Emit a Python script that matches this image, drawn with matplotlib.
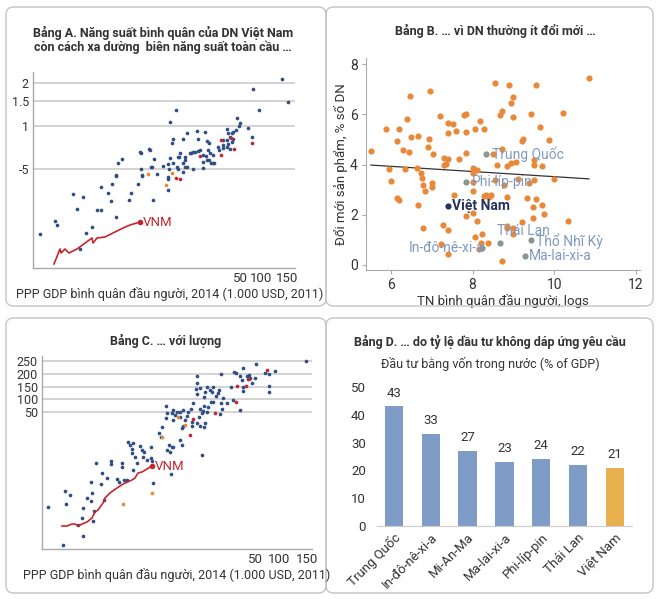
import matplotlib
matplotlib.use("Agg")
import matplotlib.pyplot as plt
from matplotlib.patches import FancyBboxPatch

plt.rcParams["font.family"] = ["Roboto", "DejaVu Sans"]

# ---------- Panel A: productivity vs GDP (axis units are the chart's own index scale) ----------
a_blue_x = [7, 22, 24, 40, 50, 44, 53, 59, 47, 64, 68, 68, 75, 78, 79, 83, 83, 85, 89, 96, 98, 105,
            108, 109, 108, 117, 119, 121, 120, 124, 130, 135, 135, 137, 139, 140, 144, 145, 147, 150,
            150, 154, 158, 162, 165, 167, 170, 170, 174, 178, 181, 175, 177, 185, 190, 194, 197, 199,
            249, 220, 255, 226, 143, 137, 204, 207, 206, 215, 219, 203, 200, 199, 195, 194, 197, 200,
            194, 195, 190, 190, 186, 154, 164, 172, 140, 150, 165, 174, 176, 160, 157, 146, 152, 173,
            180, 135, 152, 170, 176, 180, 136, 145, 152, 160, 135, 107, 116, 118, 109, 83]
a_blue_y = [34, 47, 43, 74, 71, 59, 35, 41, 19, 58, 58, 81, 75, 67, 84, 93, 51, 105, 109, 68, 75, 84,
            99, 92, 115, 118, 101, 109, 68, 94, 102, 78, 89, 110, 125, 105, 101, 111, 115, 96,
            105, 101, 115, 116, 117, 118, 113, 100, 108, 105, 105, 118, 115, 121, 120, 121, 119, 126,
            189, 179, 166, 158, 158, 146, 150, 145, 142, 140, 131, 138, 136, 135, 135, 139, 131, 129,
            128, 124, 128, 123, 118, 135, 137, 136, 129, 129, 129, 127, 125, 116, 115, 111, 111, 112,
            113, 104, 108, 106, 108, 105, 99, 99, 101, 99, 91, 116, 119, 101, 93, 92]
a_red_x = [143, 147, 167, 188, 201, 219, 188, 198]
a_red_y = [90, 89, 112, 113, 119, 125, 128, 130]
a_orange_x = [115, 139, 133]
a_orange_y = [94, 95, 83]
a_vnm_x = [21, 27, 28, 32, 36, 44, 59, 60, 64, 72, 82, 90, 97, 107]
a_vnm_y = [4, 19, 15, 19, 15, 19, 30, 25, 30, 31, 36, 40, 43, 46]
a_ytick_pos = [185, 167, 142, 99]
a_ytick_lab = ["2", "1.5", "1", "-5"]
a_xtick_pos = [207, 228, 254]
a_xtick_lab = ["50", "100", "150"]

# ---------- Panel B: innovation vs income ----------
b_x = [10.85, 8.56, 8.88, 9.56, 6.95, 6.46, 9.0, 8.93, 8.71, 8.68, 9.0, 9.44, 10.22, 7.2, 7.78, 7.83,
       6.39, 5.88, 6.2, 7.39, 7.51, 7.39, 7.59, 7.85, 8.05, 8.17, 8.27, 9.66, 6.49, 6.66, 6.93, 6.15,
       9.24, 9.88, 6.9, 5.51, 6.29, 6.44, 7.02, 7.29, 7.39, 7.29, 7.34, 7.66, 7.85, 8.49, 8.73, 9.22,
       8.61, 8.85, 8.95, 9.07, 9.51, 9.51, 9.71, 5.95, 6.34, 6.63, 6.73, 8.0, 8.1, 8.02, 6.0, 6.76,
       6.78, 7.0, 7.0, 6.83, 8.0, 8.02, 8.56, 8.76, 9.12, 9.39, 9.51, 10.0, 6.15, 6.2, 6.66, 7.54,
       8.27, 8.34, 8.41, 8.46, 8.85, 9.34, 9.56, 9.71, 9.49, 9.76, 8.0, 7.83, 8.12, 9.2, 9.49, 10.34,
       7.27, 8.85, 8.85, 8.98, 6.78, 7.41, 8.98, 8.22, 8.07, 8.2, 8.37, 7.22, 8.15, 7.41, 8.71]
b_y = [7.45, 7.25, 7.17, 7.17, 6.93, 6.73, 6.69, 6.45, 6.14, 5.98, 5.9, 6.02, 6.06, 5.94, 5.98, 6.02,
       5.82, 5.42, 5.42, 5.66, 5.62, 5.26, 5.34, 5.3, 5.42, 5.74, 5.42, 5.5, 5.1, 5.14, 5.02, 4.94,
       5.02, 4.98, 4.7, 4.54, 4.58, 4.5, 4.42, 4.26, 4.22, 3.98, 4.02, 4.22, 4.46, 4.42, 4.62, 4.94,
       3.98, 3.94, 4.06, 4.1, 4.18, 3.98, 3.94, 3.82, 3.82, 3.86, 3.66, 3.86, 3.78, 3.66, 3.35, 3.47,
       3.19, 3.27, 3.11, 2.95, 2.95, 3.31, 3.39, 3.19, 3.43, 3.27, 3.39, 3.43, 2.67, 2.59, 2.39, 2.79,
       2.75, 2.79, 2.71, 2.79, 2.71, 2.67, 2.63, 2.39, 2.31, 2.03, 2.07, 1.95, 1.75, 1.71, 1.87, 1.75,
       1.59, 1.55, 1.47, 1.47, 1.47, 1.39, 1.23, 1.23, 1.11, 0.88, 0.88, 0.84, 0.64, 0.44, 0.16]
b_countries = ["Trung Quốc", "Phi-líp-pin", "Thái Lan", "Thổ Nhĩ Kỳ", "In-đô-nê-xi-a", "Ma-lai-xi-a"]
b_country_x = [8.34, 7.85, 8.68, 9.44, 8.24, 9.29]
b_country_y = [4.42, 3.31, 0.88, 1.0, 0.68, 0.36]
b_vn_x, b_vn_y = 7.41, 2.35
b_fit_slope, b_fit_intercept = -0.103, 4.55
b_fit_range = [5.51, 10.85]

# ---------- Panel C: capital vs GDP ----------
c_blue_x = [264, 214, 201, 192, 194, 223, 233, 227, 207, 205, 198, 200, 206, 208, 213, 210, 201, 201,
            227, 227, 189, 179, 171, 177, 176, 168, 170, 165, 163, 158, 162, 155, 154, 155, 191, 198,
            185, 181, 174, 171, 169, 179, 180, 178, 166, 165, 162, 151, 149, 146, 145, 155, 158, 160,
            157, 161, 141, 138, 135, 131, 130, 133, 138, 125, 124, 150, 150, 155, 158, 162, 163, 143,
            141, 140, 131, 124, 120, 117, 119, 138, 140, 130, 127, 131, 86, 88, 91, 90, 98, 102, 109,
            109, 160, 129, 111, 6, 23, 28, 24, 21, 41, 40, 36, 41, 45, 49, 50, 49, 54, 52, 51, 59, 60,
            65, 62, 69, 69, 75, 77, 80, 80, 82, 85, 91, 90, 95, 93, 100, 101, 105, 110, 125, 128]
c_blue_y = [188, 185, 181, 177, 176, 176, 178, 175, 174, 173, 173, 169, 170, 171, 171, 166, 162, 158,
            163, 157, 162, 175, 162, 159, 156, 159, 157, 162, 157, 161, 152, 166, 160, 155, 149, 139,
            146, 151, 153, 147, 147, 146, 140, 135, 142, 137, 143, 146, 140, 137, 133, 173, 140, 136,
            132, 138, 139, 137, 137, 139, 136, 134, 132, 136, 131, 127, 123, 126, 123, 122, 126, 129,
            123, 121, 129, 143, 122, 116, 112, 109, 104, 102, 104, 102, 107, 104, 106, 100, 103, 97, 102,
            91, 94, 75, 66, 42, 58, 54, 45, 4, 13, 31, 24, 41, 51, 48, 56, 67, 86, 38, 28, 65, 76,
            71, 49, 88, 85, 70, 67, 86, 82, 69, 69, 79, 96, 86, 92, 99, 92, 89, 88, 99, 97]
c_red_x = [225, 207, 195, 204, 194, 173, 151, 148]
c_red_y = [179, 170, 163, 163, 147, 136, 130, 114]
c_orange_x = [143, 136, 120, 110, 81]
c_orange_y = [124, 132, 112, 56, 45]
c_vnm_x = [20, 25, 30, 33, 36, 40, 45, 50, 53, 56, 61, 63, 68, 75, 81, 90, 93, 96, 100, 105, 110]
c_vnm_y = [23, 23, 25, 25, 23, 25, 27, 31, 37, 39, 46, 51, 56, 61, 65, 69, 71, 76, 77, 80, 83]
c_ytick_pos = [188, 175, 162, 150, 137]
c_ytick_lab = ["250", "200", "150", "100", "50"]
c_xtick_pos = [213, 237, 265]
c_xtick_lab = ["50", "100", "150"]

# ---------- Panel D: domestic investment ----------
d_countries = ["Trung Quốc", "In-đô-nê-xi-a", "Mi-An-Ma", "Ma-lai-xi-a", "Phi-líp-pin", "Thái Lan", "Việt Nam"]
d_values = [43, 33, 27, 23, 24, 22, 21]

W, H = 660, 599
BLUE_DOT = "#2f4f86"
RED = "#c4262e"
ORANGE = "#e8893a"
GRID = "#cccccc"
SPINE = "#aaaaaa"
TXT = "#333333"
LABEL_BLUE = "#8099c2"

fig = plt.figure(figsize=(W / 100, H / 100), dpi=100)
fig.patch.set_facecolor("white")


def px_axes(left, top, right, bottom):
    return fig.add_axes([left / W, 1 - bottom / H, (right - left) / W, (bottom - top) / H])


def fig_text(x, y, s, **kw):
    fig.text(x / W, 1 - y / H, s, **kw)


# panel frames
for (x0, y0, x1, y1) in [(6, 7, 326, 306), (326, 7, 653, 306), (6, 318, 326, 593), (326, 318, 653, 593)]:
    box = FancyBboxPatch((x0 / W, 1 - y1 / H), (x1 - x0) / W, (y1 - y0) / H,
                         boxstyle="round,pad=0,rounding_size=0.012", transform=fig.transFigure,
                         facecolor="none", edgecolor="#c4c4c4", linewidth=1.0)
    fig.patches.append(box)


def style_index_axes(ax, ytp, ytl, xtp, xtl):
    for s in ["top", "right"]:
        ax.spines[s].set_visible(False)
    for s in ["left", "bottom"]:
        ax.spines[s].set_color(SPINE)
        ax.spines[s].set_linewidth(1.0)
    ax.set_yticks(ytp)
    ax.set_yticklabels(ytl)
    ax.set_xticks(xtp)
    ax.set_xticklabels(xtl)
    ax.tick_params(length=0, labelsize=9.5, colors=TXT, pad=3)
    ax.tick_params(axis="y", labelsize=9)
    for y in ytp:
        ax.axhline(y, color=GRID, lw=1.2, zorder=0)


# ---- A ----
axA = px_axes(33, 72, 295, 268)
axA.set_xlim(0, 262)
axA.set_ylim(0, 196)
style_index_axes(axA, a_ytick_pos, a_ytick_lab, a_xtick_pos, a_xtick_lab)
axA.scatter(a_blue_x, a_blue_y, s=7, color=BLUE_DOT, linewidths=0, zorder=3)
axA.scatter(a_red_x, a_red_y, s=7, color=RED, linewidths=0, zorder=3)
axA.scatter(a_orange_x, a_orange_y, s=7, color=ORANGE, linewidths=0, zorder=3)
axA.plot(a_vnm_x, a_vnm_y, color=RED, lw=1.2, zorder=4)
axA.plot(a_vnm_x[-1], a_vnm_y[-1], "o", color=RED, ms=3, zorder=4)
axA.text(a_vnm_x[-1] + 3, a_vnm_y[-1], "VNM", color=RED, fontsize=9.5, va="center", ha="left")
fig_text(163, 33, "Bảng A. Năng suất bình quân của DN Việt Nam", ha="center", va="center",
         fontsize=9, fontweight="bold", color=TXT)
fig_text(163, 47, "còn cách xa dường  biên năng suất toàn cầu …", ha="center", va="center",
         fontsize=9, fontweight="bold", color=TXT)
fig_text(170, 294, "PPP GDP bình quân đầu người, 2014 (1.000 USD, 2011)", ha="center", va="center",
         fontsize=9, color=TXT)

# ---- B ----
axB = px_axes(366, 58, 640, 270)
axB.set_xlim(5.39, 12.1)
axB.set_ylim(-0.2, 8.25)
for s in ["top", "right"]:
    axB.spines[s].set_visible(False)
for s in ["left", "bottom"]:
    axB.spines[s].set_color(SPINE)
axB.set_xticks([6, 8, 10, 12])
axB.set_yticks([0, 2, 4, 6, 8])
axB.tick_params(length=3, color=SPINE, labelsize=10, colors=TXT, pad=3)
axB.scatter(b_x, b_y, s=20, color=ORANGE, linewidths=0, zorder=3)
fx = b_fit_range
axB.plot(fx, [b_fit_slope * v + b_fit_intercept for v in fx], color="#333333", lw=0.9, zorder=2)
axB.scatter(b_country_x, b_country_y, s=20, color="#8a9690", linewidths=0, zorder=4)
offsets = {"Trung Quốc": (6, 0, "left"), "Phi-líp-pin": (5, 0, "left"), "Thái Lan": (-3, 12, "left"),
           "Thổ Nhĩ Kỳ": (5, -1, "left"), "In-đô-nê-xi-a": (2, 0, "right"), "Ma-lai-xi-a": (4, 0, "left")}
for name, x, y in zip(b_countries, b_country_x, b_country_y):
    dx, dy, ha = offsets[name]
    axB.annotate(name, (x, y), xytext=(dx, dy), textcoords="offset pixels", ha=ha, va="center",
                 fontsize=10, color=LABEL_BLUE, zorder=5)
axB.scatter([b_vn_x], [b_vn_y], s=20, color="#27335e", linewidths=0, zorder=4)
axB.annotate("Việt Nam", (b_vn_x, b_vn_y), xytext=(4, 0), textcoords="offset pixels", ha="left",
             va="center", fontsize=10, color="#27335e", fontweight="bold")
axB.set_ylabel("Đổi mới sản phẩm, % số DN", fontsize=9.5, color=TXT, labelpad=1)
axB.set_xlabel("TN bình quân đầu người, logs", fontsize=9.5, color=TXT, labelpad=1)
fig_text(495, 31, "Bảng B. … vì DN thường ít đổi mới …", ha="center", va="center",
         fontsize=9, fontweight="bold", color=TXT)

# ---- C ----
axC = px_axes(42, 356, 312, 549)
axC.set_xlim(0, 270)
axC.set_ylim(0, 193)
style_index_axes(axC, c_ytick_pos, c_ytick_lab, c_xtick_pos, c_xtick_lab)
axC.scatter(c_blue_x, c_blue_y, s=7, color=BLUE_DOT, linewidths=0, zorder=3)
axC.scatter(c_red_x, c_red_y, s=7, color=RED, linewidths=0, zorder=3)
axC.scatter(c_orange_x, c_orange_y, s=7, color=ORANGE, linewidths=0, zorder=3)
axC.plot(c_vnm_x, c_vnm_y, color=RED, lw=1.2, zorder=4)
axC.plot(c_vnm_x[-1], c_vnm_y[-1], "o", color=RED, ms=3, zorder=4)
axC.text(c_vnm_x[-1] + 3, c_vnm_y[-1], "VNM", color=RED, fontsize=9.5, va="center", ha="left")
fig_text(166, 341, "Bảng C. … với lượng", ha="center", va="center",
         fontsize=9, fontweight="bold", color=TXT)
fig_text(177, 575, "PPP GDP bình quân đầu người, 2014 (1.000 USD, 2011)", ha="center", va="center",
         fontsize=9, color=TXT)

# ---- D ----
axD = px_axes(377, 387, 632, 526)
pos = list(range(len(d_countries)))
colors = ["#7f9cc6"] * (len(d_countries) - 1) + ["#e8b04f"]
axD.bar(pos, d_values, width=0.5, color=colors, zorder=2)
for p, v in zip(pos, d_values):
    axD.text(p, v + 2.5, str(v), ha="center", va="bottom", fontsize=9.5, color=TXT)
axD.set_xlim(-0.46, 6.47)
axD.set_ylim(0, 50)
for s in ["top", "right", "left"]:
    axD.spines[s].set_visible(False)
axD.spines["bottom"].set_color(GRID)
axD.set_yticks([0, 10, 20, 30, 40, 50])
axD.set_xticks(pos)
axD.set_xticklabels(d_countries, rotation=45, ha="right", rotation_mode="anchor")
axD.tick_params(length=0, labelsize=9.5, colors=TXT)
axD.tick_params(axis="y", pad=8)
fig_text(490, 342, "Bảng D. … do tỷ lệ dầu tư không dáp ứng yêu cầu", ha="center", va="center",
         fontsize=9, fontweight="bold", color=TXT)
fig_text(490, 364, "Đầu tư bằng vốn trong nước (% of GDP)", ha="center", va="center",
         fontsize=9, color=TXT)

fig.savefig("out.png", dpi=100, facecolor="white")
